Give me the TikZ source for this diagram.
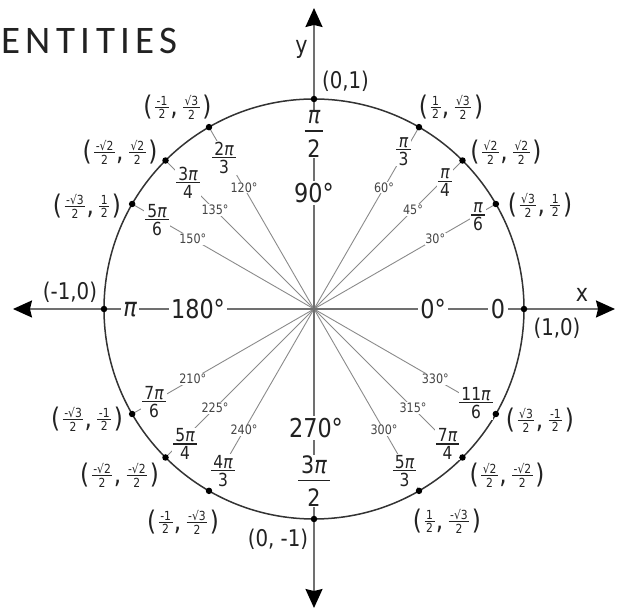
\documentclass[tikz,border=0pt]{standalone}
\usepackage{fontspec}
\setmainfont{DejaVu Sans}[FakeStretch=0.86]
\newfontfamily\titlefont{Carlito}[LetterSpace=14]
\usetikzlibrary{arrows.meta}
\definecolor{txt}{HTML}{222222}
\definecolor{degc}{HTML}{444444}
\definecolor{rayc}{HTML}{8A8A8A}
\definecolor{axc}{HTML}{707070}
\definecolor{circc}{HTML}{333333}
\newcommand{\mypi}{{\itshape π}}
% fraction: #1 kern above bar, #2 kern below bar, #3 numerator, #4 denominator
\newcommand{\fr}[4]{\vbox{\halign{\hfil\kern.12em##\kern.12em\hfil\cr#3\cr\noalign{\kern#1\hrule height .07em\kern#2}#4\cr}}}
\newsavebox\cfbox
\newcommand{\cf}[2]{\sbox\cfbox{\fontsize{12.5}{13}\selectfont\fr{.1em}{.12em}{#1}{#2}}\raisebox{\dimexpr .3em-.5\ht\cfbox+.5\dp\cfbox\relax}{\usebox\cfbox}}
\newcommand{\co}[4]{(\kern.1em\cf{#1}{#2}\kern.05em,\kern.2em\cf{#3}{#4}\kern.1em)}
\begin{document}
\begin{tikzpicture}[x=1pt,y=1pt,
  ray/.style={draw=rayc, line width=0.9pt},
  axis/.style={draw=axc, line width=1.8pt, >={Stealth[length=19pt,width=17pt,inset=2pt,color=black]}, <->},
  circ/.style={draw=circc, line width=1.5pt},
  lbl/.style={fill=white, text=txt},
  deg/.style={lbl, font=\fontsize{13}{14}\selectfont, text=degc, inner sep=0.6pt},
  rad/.style={lbl, font=\fontsize{18}{20}\selectfont, inner sep=0.8pt},
  big/.style={lbl, font=\fontsize{26}{28}\selectfont, inner sep=2.5pt},
  bigfr/.style={lbl, font=\fontsize{24}{26}\selectfont, inner sep=1pt},
  coord/.style={font=\fontsize{27}{29}\selectfont, text=txt, inner sep=0pt},
  ptc/.style={font=\fontsize{23}{25}\selectfont, text=txt, inner sep=0pt},
  axl/.style={font=\fontsize{24}{26}\selectfont, text=txt, inner sep=0pt},
  dot/.style={circle, fill=black, inner sep=0pt, minimum size=6.5pt},
]
\useasboundingbox (-314,-300) rectangle (312,309);
% title
\node[anchor=base west, font=\titlefont\fontsize{39}{40}\selectfont, inner sep=0pt, text=txt] (title) at (-313,255) {ENTITIES};
% points
\coordinate (o) at (0,0);
\foreach \a in {0,30,45,60,90,120,135,150,180,210,225,240,270,300,315,330}
  \coordinate (p\a) at (\a:210);
% rays
\foreach \a in {30,45,60,120,135,150,210,225,240,300,315,330}
  \draw[ray] (o) -- (p\a);
% axes
\coordinate (xl) at (-301,0); \coordinate (xr) at (301,0);
\coordinate (yb) at (0,-299); \coordinate (yt) at (0,301);
\draw[axis] (xl) -- (xr);
\draw[axis] (yb) -- (yt);
% circle
\draw[circ] (o) circle[radius=210pt];
% axis labels
\node[axl] (lx) at (268,14) {x};
\node[axl] (ly) at (-12.5,260) {y};
\node[big] (n90) at (0,116) {90°};
\node[big] (n270) at (2,-119) {270°};
\node[big] (n180) at (-116,0) {180°};
\node[big] (n0d) at (119,0) {0°};
\node[big] (npi) at (-184,-1) {\mypi};
\node[big] (nzero) at (184,0) {0};
\node[bigfr] (npi2) at (0,175) {\fr{.25em}{.3em}{\mypi}{2}};
\node[bigfr] (n3pi2) at (0,-172) {\fr{.25em}{.3em}{3\mypi}{2}};
% degree labels
\foreach \a in {30,45,60,120,135,150,210,225,240,300,315,330}
  \node[deg] (d\a) at (\a:140) {\a°};
% radian labels
\node[rad] (r120) at (-90,151) {\fr{.08em}{.1em}{2\mypi}{3}};
\node[rad] (r135) at (-126,126.5) {\fr{.08em}{.1em}{3\mypi}{4}};
\node[rad] (r150) at (-157,89) {\fr{.08em}{.1em}{5\mypi}{6}};
\node[rad] (r60) at (89.5,157.5) {\fr{.08em}{.1em}{\mypi}{3}};
\node[rad] (r45) at (131,126) {\fr{.08em}{.1em}{\mypi}{4}};
\node[rad] (r30) at (164,92) {\fr{.08em}{.1em}{\mypi}{6}};
\node[rad] (r210) at (-160,-93) {\fr{.08em}{.1em}{7\mypi}{6}};
\node[rad] (r225) at (-129,-135) {\fr{.08em}{.1em}{5\mypi}{4}};
\node[rad] (r240) at (-91,-162) {\fr{.08em}{.1em}{4\mypi}{3}};
\node[rad] (r330) at (162,-94) {\fr{.08em}{.1em}{11\mypi}{6}};
\node[rad] (r315) at (133.5,-135) {\fr{.08em}{.1em}{7\mypi}{4}};
\node[rad] (r300) at (90.5,-162) {\fr{.08em}{.1em}{5\mypi}{3}};
% coordinates on axes
\node[ptc] (c90) at (31.5,228) {(0,1)};
\node[ptc] (c180) at (-244,17) {(-1,0)};
\node[ptc] (c0) at (243,-19) {(1,0)};
\node[ptc] (c270) at (-36,-230) {(0, -1)};
% coordinates with fractions
\node[coord] (c60) at (137,202) {\co{1}{2}{√3}{2}};
\node[coord] (c45) at (192,157) {\co{√2}{2}{√2}{2}};
\node[coord] (c30) at (226,104) {\co{√3}{2}{1}{2}};
\node[coord] (c120) at (-136.5,202) {\co{-1}{2}{√3}{2}};
\node[coord] (c135) at (-194,157) {\co{-√2}{2}{√2}{2}};
\node[coord] (c150) at (-227,103) {\co{-√3}{2}{1}{2}};
\node[coord] (c210) at (-227,-110) {\co{-√3}{2}{-1}{2}};
\node[coord] (c225) at (-194.5,-166) {\co{-√2}{2}{-√2}{2}};
\node[coord] (c240) at (-131,-213) {\co{-1}{2}{-√3}{2}};
\node[coord] (c330) at (226,-111) {\co{√3}{2}{-1}{2}};
\node[coord] (c315) at (193,-166) {\co{√2}{2}{-√2}{2}};
\node[coord] (c300) at (133,-212) {\co{1}{2}{-√3}{2}};
% dots
\foreach \a in {0,30,45,60,90,120,135,150,180,210,225,240,270,300,315,330}
  \node[dot] (q\a) at (p\a) {};
\end{tikzpicture}
\end{document}
